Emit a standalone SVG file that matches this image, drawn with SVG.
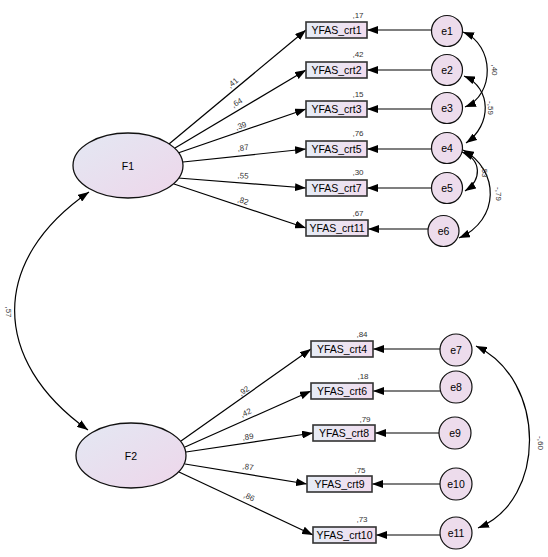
<svg xmlns="http://www.w3.org/2000/svg" width="548" height="557" viewBox="0 0 548 557">
<defs>
<linearGradient id="gl" x1="0" y1="0" x2="1" y2="1">
<stop offset="0" stop-color="#e3e8f3"/>
<stop offset="1" stop-color="#eed6ea"/>
</linearGradient>
<linearGradient id="gb" x1="0" y1="0" x2="1" y2="0">
<stop offset="0" stop-color="#e6ecf5"/>
<stop offset="1" stop-color="#f1dcee"/>
</linearGradient>
<marker id="ar" markerUnits="userSpaceOnUse" markerWidth="12" markerHeight="8" refX="11" refY="4" orient="auto-start-reverse">
<path d="M0,0 L11,4 L0,8 z" fill="#000"/>
</marker>
<style>
.lat{fill:url(#gl);stroke:#111;stroke-width:1.3}
.box{fill:url(#gb);stroke:#333;stroke-width:1.6}
.err{fill:#eddcec;stroke:#111;stroke-width:1.2}
.ln{stroke:#000;stroke-width:1.2;fill:none;marker-end:url(#ar)}
.cv{stroke:#000;stroke-width:1.2;fill:none;marker-start:url(#ar);marker-end:url(#ar)}
.t{font-family:"Liberation Sans",Arial,sans-serif;font-size:10.5px;fill:#000;text-anchor:middle;dominant-baseline:central}
.s{font-family:"Liberation Sans",Arial,sans-serif;font-size:8px;fill:#333;text-anchor:middle;dominant-baseline:central}
</style>
</defs>
<rect width="548" height="557" fill="#fff"/>
<g id="connectors">
<path class="ln" d="M169,144 L306,30"/>
<path class="ln" d="M175,148 L306,70"/>
<path class="ln" d="M178,153 L306,109"/>
<path class="ln" d="M183,162 L306,149"/>
<path class="ln" d="M178,178 L306,188"/>
<path class="ln" d="M174,184 L306,228"/>
<path class="ln" d="M181,441 L311,349"/>
<path class="ln" d="M185,447 L311,391"/>
<path class="ln" d="M186,452 L313,433"/>
<path class="ln" d="M185,464 L307,484"/>
<path class="ln" d="M179,472 L313,535"/>
<path class="ln" d="M431.5,30 L367,30"/>
<path class="ln" d="M431.5,70 L367,70"/>
<path class="ln" d="M431.5,109 L367,109"/>
<path class="ln" d="M431.5,149 L367,149"/>
<path class="ln" d="M431.5,188 L367,188"/>
<path class="ln" d="M428,229 L368,229"/>
<path class="ln" d="M440,349 L373,349"/>
<path class="ln" d="M440.5,391 L373,391"/>
<path class="ln" d="M439,433 L375,433"/>
<path class="ln" d="M440,484 L372,484"/>
<path class="ln" d="M440,535 L376,535"/>
<path class="cv" d="M89,192 C-10,260 -10,360 88,430"/>
<path class="cv" d="M463,32 C495,45 495,95 465,107"/>
<path class="cv" d="M464,76 C492,88 492,125 466,143"/>
<path class="cv" d="M462,152 C482,160 482,180 465,191"/>
<path class="cv" d="M463,150 C500,170 500,220 459,238"/>
<path class="cv" d="M476,346 C547,380 547,500 478,528"/>
<text class="s" transform="translate(8,312) rotate(90)">,57</text>
<text class="s" transform="translate(494,70) rotate(90)">,40</text>
<text class="s" transform="translate(490,108) rotate(90)">-,59</text>
<text class="s" transform="translate(484,172) rotate(90)">,53</text>
<text class="s" transform="translate(498,194) rotate(90)">-,79</text>
<text class="s" transform="translate(540,443) rotate(90)">-,60</text>
<text class="s" transform="translate(233,83) rotate(-40)">,41</text>
<text class="s" transform="translate(237,103) rotate(-31)">,64</text>
<text class="s" transform="translate(241,126) rotate(-19)">,39</text>
<text class="s" transform="translate(243,148) rotate(-7)">,87</text>
<text class="s" transform="translate(243,176) rotate(4)">,55</text>
<text class="s" transform="translate(243,201) rotate(18)">,82</text>
<text class="s" transform="translate(244,391) rotate(-35)">,92</text>
<text class="s" transform="translate(246,413) rotate(-24)">,42</text>
<text class="s" transform="translate(248,437) rotate(-8)">,89</text>
<text class="s" transform="translate(248,467) rotate(9)">,87</text>
<text class="s" transform="translate(249,497) rotate(25)">,86</text>
</g>
<g id="F1"><ellipse class="lat" cx="128" cy="165.5" rx="55" ry="32.5"/><text class="t" x="128" y="166">F1</text></g>
<g id="F2"><ellipse class="lat" cx="131" cy="455.5" rx="55" ry="32.5"/><text class="t" x="131" y="456">F2</text></g>
<g id="YFAS_crt1"><rect class="box" x="306" y="22" width="61" height="16"/><text class="t" x="336.5" y="30">YFAS_crt1</text><text class="s" x="358" y="15">,17</text></g>
<g id="YFAS_crt2"><rect class="box" x="306" y="62" width="61" height="16"/><text class="t" x="336.5" y="70">YFAS_crt2</text><text class="s" x="358" y="54">,42</text></g>
<g id="YFAS_crt3"><rect class="box" x="306" y="101" width="61" height="16"/><text class="t" x="336.5" y="109">YFAS_crt3</text><text class="s" x="358" y="94">,15</text></g>
<g id="YFAS_crt5"><rect class="box" x="306" y="141" width="61" height="16"/><text class="t" x="336.5" y="149">YFAS_crt5</text><text class="s" x="358" y="133">,76</text></g>
<g id="YFAS_crt7"><rect class="box" x="306" y="180" width="61" height="16"/><text class="t" x="336.5" y="188">YFAS_crt7</text><text class="s" x="358" y="172">,30</text></g>
<g id="YFAS_crt11"><rect class="box" x="306" y="220" width="62" height="16"/><text class="t" x="337" y="228">YFAS_crt11</text><text class="s" x="358" y="213">,67</text></g>
<g id="YFAS_crt4"><rect class="box" x="311" y="341" width="62" height="16"/><text class="t" x="342" y="349">YFAS_crt4</text><text class="s" x="362" y="334">,84</text></g>
<g id="YFAS_crt6"><rect class="box" x="311" y="383" width="62" height="16"/><text class="t" x="342" y="391">YFAS_crt6</text><text class="s" x="363" y="376">,18</text></g>
<g id="YFAS_crt8"><rect class="box" x="313" y="425" width="62" height="16"/><text class="t" x="344" y="433">YFAS_crt8</text><text class="s" x="365" y="419">,79</text></g>
<g id="YFAS_crt9"><rect class="box" x="307" y="476" width="65" height="16"/><text class="t" x="339.5" y="484">YFAS_crt9</text><text class="s" x="360" y="470">,75</text></g>
<g id="YFAS_crt10"><rect class="box" x="313" y="527" width="63" height="16"/><text class="t" x="344.5" y="535">YFAS_crt10</text><text class="s" x="362" y="519">,73</text></g>
<g id="e1"><circle class="err" cx="447" cy="31" r="15.5"/><text class="t" x="447" y="31">e1</text></g>
<g id="e2"><circle class="err" cx="447" cy="70" r="15.5"/><text class="t" x="447" y="70">e2</text></g>
<g id="e3"><circle class="err" cx="447" cy="108" r="15.5"/><text class="t" x="447" y="108">e3</text></g>
<g id="e4"><circle class="err" cx="447" cy="148" r="15.5"/><text class="t" x="447" y="148">e4</text></g>
<g id="e5"><circle class="err" cx="447" cy="188" r="15.5"/><text class="t" x="447" y="188">e5</text></g>
<g id="e6"><circle class="err" cx="443.5" cy="231" r="15.5"/><text class="t" x="443.5" y="231">e6</text></g>
<g id="e7"><circle class="err" cx="456" cy="350" r="16"/><text class="t" x="456" y="350">e7</text></g>
<g id="e8"><circle class="err" cx="456" cy="387" r="16"/><text class="t" x="456" y="387">e8</text></g>
<g id="e9"><circle class="err" cx="455" cy="433" r="16"/><text class="t" x="455" y="433">e9</text></g>
<g id="e10"><circle class="err" cx="456" cy="484" r="16"/><text class="t" x="456" y="484">e10</text></g>
<g id="e11"><circle class="err" cx="456" cy="533" r="16"/><text class="t" x="456" y="533">e11</text></g>
</svg>
